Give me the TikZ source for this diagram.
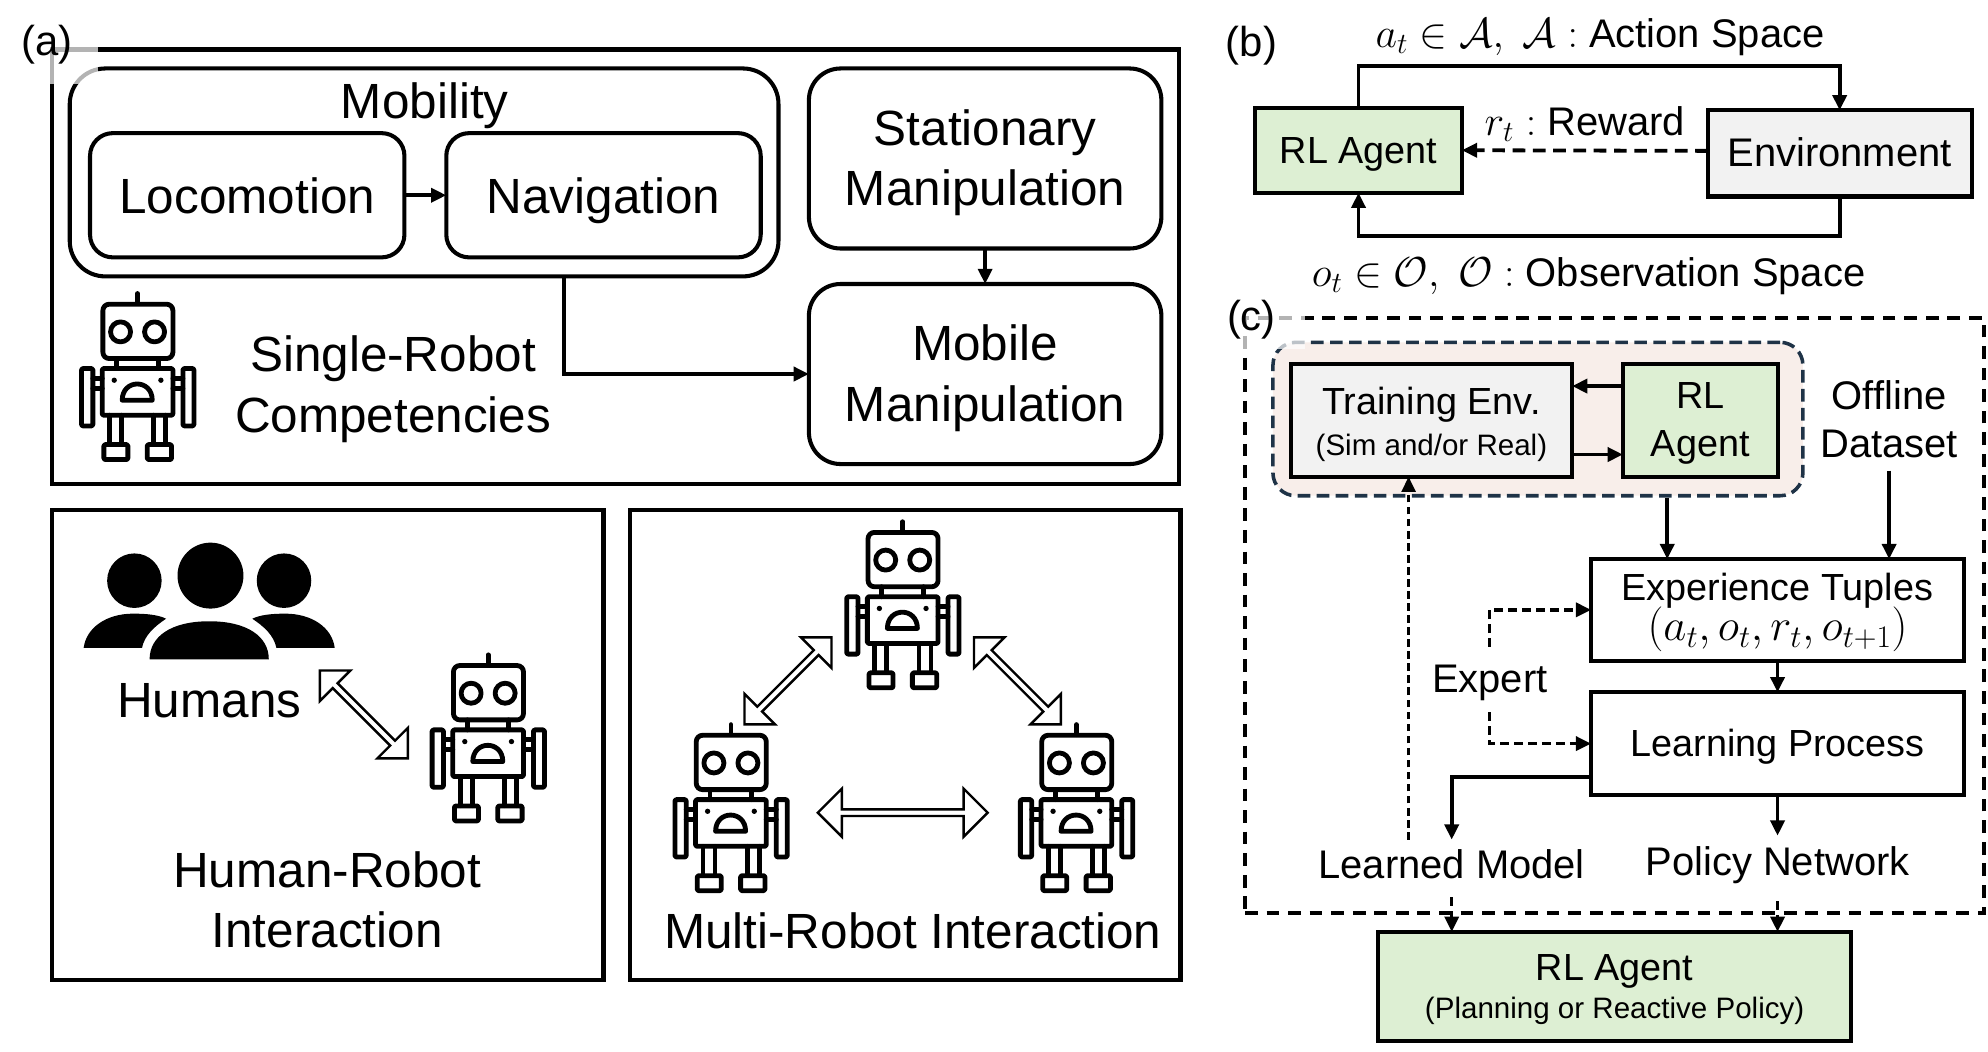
\documentclass[tikz,border=0pt]{standalone}
\usepackage{fix-cm}
\usepackage{amsmath}
\usepackage{fontspec}
\setmainfont{Liberation Sans}
\usepackage{tikz}
\usetikzlibrary{arrows.meta,positioning,shapes.arrows}
\definecolor{AgentGreen}{HTML}{DDEFD3}
\definecolor{EnvGrey}{HTML}{F2F2F2}
\definecolor{LoopPink}{HTML}{F8EEEA}
\definecolor{LoopBlue}{HTML}{1F3347}
\newcommand{\bigtext}{\fontsize{39}{47.5}\selectfont}
\newcommand{\midtext}{\fontsize{31.5}{38}\selectfont}
\newcommand{\boxtext}{\fontsize{29.8}{38}\selectfont}
\newcommand{\smalltext}{\fontsize{23.3}{27}\selectfont}
\newcommand{\mathtext}{\fontsize{33}{38}\selectfont}
\newcommand{\lift}[1]{\rule{0pt}{#1pt}}
\tikzset{
  FlowArrow/.style={line width=3pt, arrows={-Triangle[length=12pt,width=11pt]}},
  DashArrow/.style={FlowArrow, line width=2.7pt, dash pattern=on 7pt off 4pt},
  LongDash/.style={FlowArrow, dash pattern=on 10pt off 6pt},
  ThinDash/.style={FlowArrow, line width=2.2pt, dash pattern=on 6pt off 3.5pt},
  PanelBox/.style={draw, line width=3.4pt, minimum width=#1},
  RoundBox/.style={draw, line width=3.2pt, align=center, inner sep=0pt, outer sep=0pt},
  PlainBox/.style={draw, line width=3.2pt, align=center, inner sep=0pt, outer sep=0pt},
  OneLine/.style={text height=#1, text depth=2pt},
  BigLabel/.style={font=\bigtext, align=center, inner sep=0pt},
  MidLabel/.style={font=\midtext, align=center, inner sep=2pt},
  FlowLabel/.style={MidLabel, inner ysep=8pt},
  TwoWay/.style={shape=double arrow, draw, fill=white, line width=1.9pt, inner sep=0pt,
                 double arrow head extend=#1, double arrow tip angle=90},
  robotpic/.pic={
    \begin{scope}[scale=.263, line width=3.8pt, line join=round, line cap=round, shift={(-231,-294)}]
      \draw (231,45) -- (231,75);
      \draw[rounded corners=5pt] (127,77) rectangle (337,240);
      \draw (180,160) circle[radius=30] (282,160) circle[radius=30];
      \draw (168,240) -- (168,270) (293,240) -- (293,270);
      \draw[rounded corners=1pt] (125,270) rectangle (337,410);
      \fill (161,305) circle[radius=8] (301,305) circle[radius=8];
      \draw (185,365) .. controls (185,300) and (275,300) .. (275,365) -- cycle;
      \draw[rounded corners=1pt] (63,270) rectangle (97,442) (367,270) rectangle (400,442);
      \draw (97,300) -- (125,300) (97,330) -- (125,330) (337,300) -- (367,300) (337,330) -- (367,330);
      \draw (147,410) -- (147,497) (183,410) -- (183,497) (280,410) -- (280,497) (316,410) -- (316,497);
      \draw[rounded corners=1pt] (130,498) rectangle (202,543) (260,498) rectangle (333,543);
    \end{scope}
  },
}
\begin{document}
\begin{tikzpicture}[x=1pt, y=-1pt]
\useasboundingbox (0,0) rectangle (1568,829.7);
% panel (a)
\node [PanelBox=889, minimum height=343] (singleBox) at (485.5,210.5) {};
\node [RoundBox, rounded corners=28pt, minimum width=559, minimum height=164] (mobilityBox) at (334.5,136) {};
\node [BigLabel] (mobilityText) at (335,83) {Mobility};
\node [RoundBox, rounded corners=18pt, minimum width=248, minimum height=98, font=\bigtext, OneLine=30pt] (locoBox) at (195,154) {Locomotion};
\node [RoundBox, rounded corners=18pt, minimum width=248, minimum height=98, font=\bigtext, OneLine=30pt, right=33pt of locoBox] (naviBox) {Navigation};
\node [RoundBox, rounded corners=25pt, minimum width=278, minimum height=142, font=\bigtext] (statBox) at (777,125) {\lift{35}Stationary\\Manipulation};
\node [RoundBox, rounded corners=25pt, minimum width=278, minimum height=142, font=\bigtext, below=28pt of statBox] (mobileBox) {\lift{35}Mobile\\Manipulation};
\node [BigLabel] (singleText) at (310,307) {Single-Robot\\Competencies};
\pic at (108.5,297) {robotpic};
\draw[FlowArrow] (locoBox) -- (naviBox);
\draw[FlowArrow] (statBox) -- (mobileBox);
\draw[FlowArrow] ([xshift=110.5]mobilityBox.south) |- (mobileBox.west);
\fill[white, opacity=.7] (38,35) rectangle (77,66);
\node [font=\fontsize{33}{33}\selectfont, inner sep=0pt] (labelA) at (37,35) {(a)};
% human-robot panel
\node [PanelBox=435, minimum height=371] (humanBox) at (258.5,587.5) {};
\fill (166,454) circle[radius=26];
\fill (106,458) circle[radius=21.5] (224,458) circle[radius=21.5];
\fill (118,520) .. controls (118,502) and (135,490) .. (165,490) .. controls (195,490) and (212,502) .. (212,520) -- cycle;
\fill (66,511) .. controls (68,495) and (84,484) .. (105,484) .. controls (116,484) and (125,485) .. (131,488) .. controls (122,494) and (114,501) .. (112,511) -- cycle;
\fill (264,511) .. controls (262,495) and (246,484) .. (225,484) .. controls (214,484) and (205,485) .. (199,488) .. controls (208,494) and (216,501) .. (218,511) -- cycle;
\node [BigLabel] (humansText) at (165,553) {Humans};
\pic at (385,582) {robotpic};
\node [TwoWay=5pt, minimum width=34, minimum height=98, rotate=-45] (humanLink) at (287,563.5) {};
\node [BigLabel] (hriText) at (258,710) {Human-Robot\\Interaction};
% multi-robot panel
\node [PanelBox=434, minimum height=371] (multiBox) at (714,587.5) {};
\pic at (712,477) {robotpic};
\pic at (576.5,637) {robotpic};
\pic at (849,637) {robotpic};
\node [TwoWay=5pt, minimum width=34, minimum height=97, rotate=45] (leftLink) at (621.5,537) {};
\node [TwoWay=5pt, minimum width=34, minimum height=97, rotate=-45] (rightLink) at (802.5,537) {};
\node [TwoWay=6pt, minimum width=38, minimum height=134] (baseLink) at (712,641) {};
\node [BigLabel] (mriText) at (720,734) {Multi-Robot Interaction};
% panel (b)
\node [font=\fontsize{33}{33}\selectfont, inner sep=0pt] (labelB) at (987,36) {(b)};
\node [PlainBox, fill=AgentGreen, minimum width=163, minimum height=67, font=\boxtext, OneLine=23pt] (agentB) at (1071.5,118.5) {RL Agent};
\node [PlainBox, fill=EnvGrey, minimum width=208, minimum height=68, font=\midtext, OneLine=23pt] (envB) at (1451,121) {Environment};
\draw[FlowArrow] (agentB.north) -- ++(0,-33) -| (envB.north);
\draw[FlowArrow] (envB.south) -- ++(0,31) -| (agentB.south);
\draw[LongDash] ([yshift=2]envB.west) -- (agentB.east);
\node [MidLabel] (actionText) at (1262,29) {{\mathtext $a_t \in \mathcal{A},\ \mathcal{A}:$} Action Space};
\node [MidLabel] (rewardText) at (1250,98) {{\mathtext $r_t:$} Reward};
\node [MidLabel] (obsText) at (1253,218) {{\mathtext $o_t \in \mathcal{O},\ \mathcal{O}:$} Observation Space};
% panel (c)
\node [draw, line width=2.8pt, dash pattern=on 10pt off 7pt, minimum width=583, minimum height=469] (offlineBox) at (1273.5,485.5) {};
\node [draw=LoopBlue, fill=LoopPink, line width=2.8pt, dash pattern=on 10pt off 5pt, rounded corners=18pt,
       minimum width=418, minimum height=121] (loopWrap) at (1213,330.5) {};
\node [PlainBox, fill=EnvGrey, minimum width=222, minimum height=89] (trainBox) at (1129,331.5) {\boxtext\lift{28}Training Env.\\[8pt]\smalltext (Sim and/or Real)};
\node [PlainBox, fill=AgentGreen, minimum width=122, minimum height=89, font=\boxtext] (agentC) at (1341,331.5) {\lift{26}RL\\Agent};
\fill[white, opacity=.7] (978,245) rectangle (1029,275);
\node [font=\fontsize{33}{33}\selectfont, inner sep=0pt] (labelC) at (987,252) {(c)};
\draw[FlowArrow] ([yshift=27]agentC.west) -- ([yshift=27]trainBox.east);
\draw[FlowArrow] ([yshift=-27]trainBox.east) -- ([yshift=-27]agentC.west);
\node [MidLabel] (dataText) at (1490,330.5) {Offline\\Dataset};
\node [PlainBox, fill=white, minimum width=294, minimum height=80] (expBox) at (1402,481) {\boxtext\lift{26}Experience Tuples\\[-2pt]\fontsize{35.4}{38}\selectfont $(a_t, o_t, r_t, o_{t+1})$};
\node [PlainBox, fill=white, minimum width=294, minimum height=81, font=\boxtext, OneLine=23pt, below=25pt of expBox] (learnBox) {Learning Process};
\node [MidLabel, OneLine=23pt, minimum height=51] (expertText) at (1175,536) {Expert};
\node [FlowLabel] (modelText) at (1145,682) {Learned Model};
\node [FlowLabel] (policyText) at (1402,682) {Policy Network};
\node [PlainBox, fill=AgentGreen, minimum width=373, minimum height=86] (finalBox) at (1273.5,778) {\boxtext\lift{26}RL Agent\\[6pt]\smalltext (Planning or Reactive Policy)};
\draw[FlowArrow] ([xshift=102]loopWrap.south) -- ([xshift=102]loopWrap.south |- expBox.north);
\draw[FlowArrow] ([yshift=-8]dataText.south) -- (dataText.south |- expBox.north);
\draw[FlowArrow] (expBox) -- (learnBox);
\draw[DashArrow] (expertText.north) |- (expBox.west);
\draw[DashArrow] (expertText.south) |- (learnBox.west);
\draw[ThinDash] ([xshift=-34]modelText.north) -- ([xshift=-18]trainBox.south);
\draw[FlowArrow] ([yshift=-26.5]learnBox.west) -| (modelText.north);
\draw[FlowArrow] (learnBox) -- (policyText);
\draw[DashArrow] ([yshift=-6]modelText.south) -- (modelText.south |- finalBox.north);
\draw[DashArrow] ([yshift=-6]policyText.south) -- (policyText.south |- finalBox.north);
\end{tikzpicture}
\end{document}
